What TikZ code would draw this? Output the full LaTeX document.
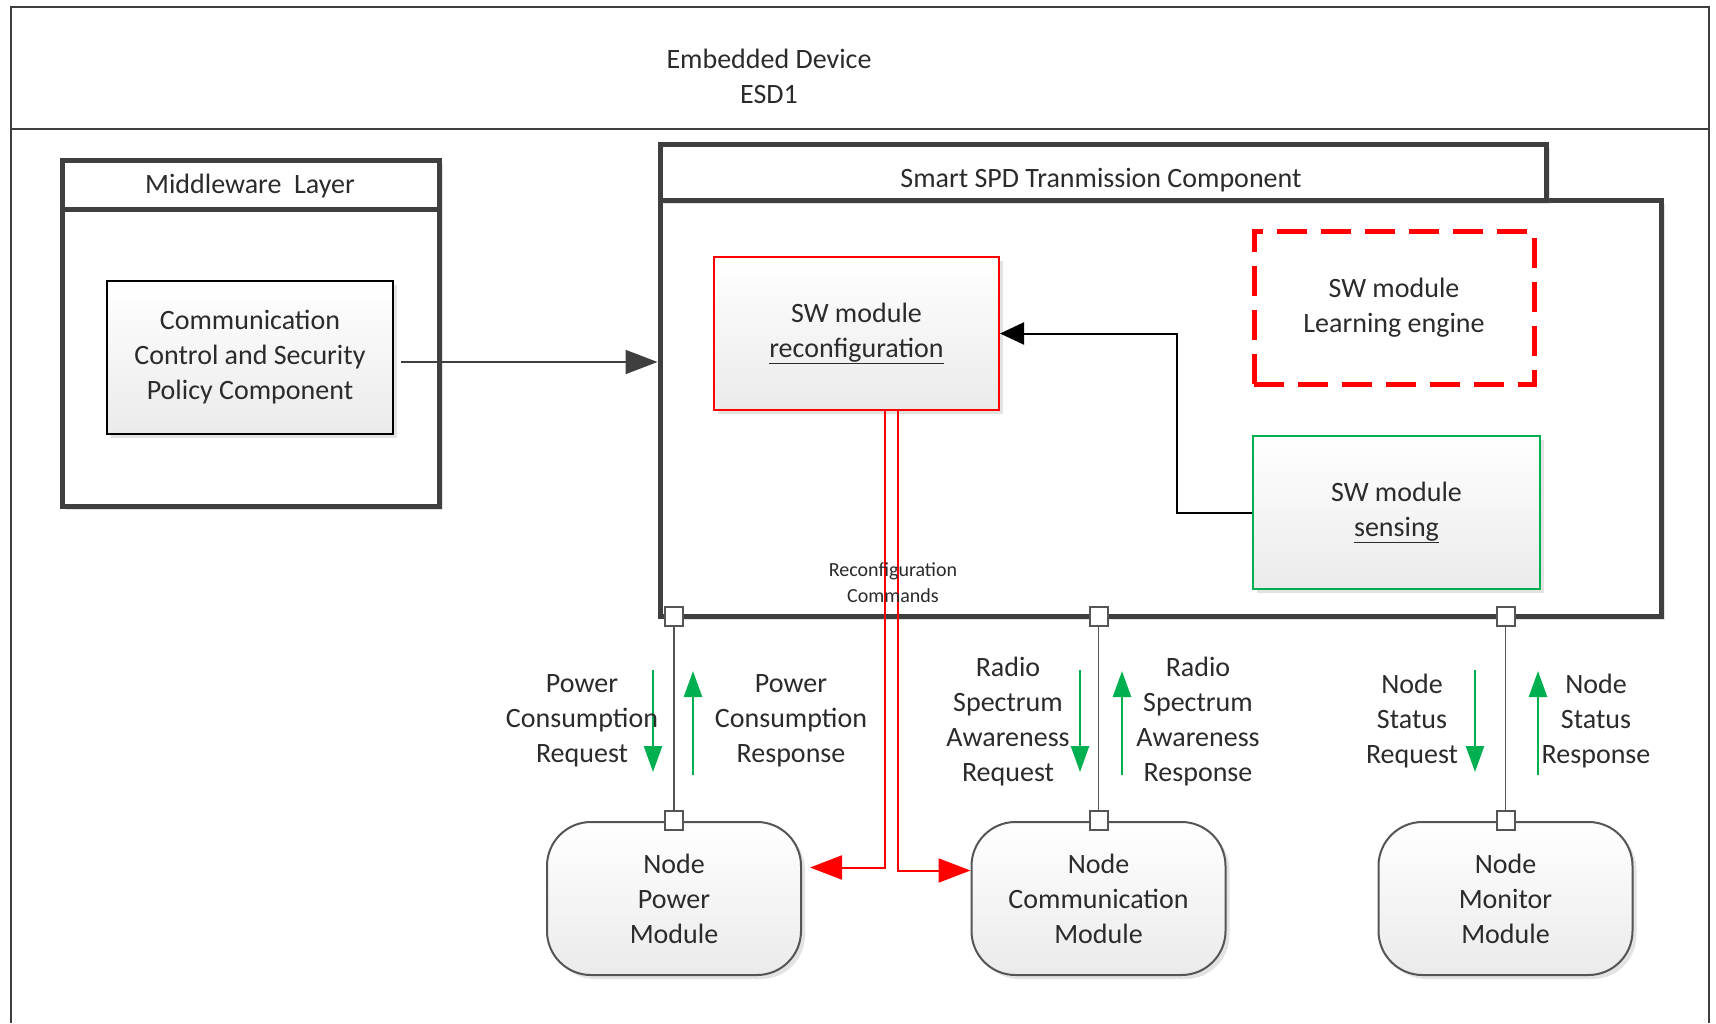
\documentclass[tikz,border=0pt]{standalone}
\usepackage{fontspec}
\setmainfont{Carlito}
\usetikzlibrary{arrows.meta,shadows,calc}

\definecolor{ink}{HTML}{2B2B2B}
\definecolor{rim}{HTML}{3F3F3F}
\definecolor{edge}{HTML}{555555}
\definecolor{okgreen}{HTML}{00B050}
\definecolor{alarm}{HTML}{FF0000}

\begin{document}
\begin{tikzpicture}[x=1pt,y=-1pt,
  txt/.style={font=\fontsize{28}{35}\selectfont, text=ink, align=center},
  smalltxt/.style={font=\fontsize{20}{26}\selectfont, text=ink, align=center},
  softshadow/.style={drop shadow={opacity=0.22, shadow xshift=4pt, shadow yshift=-4pt}},
  layerbox/.style={draw=rim, line width=5pt, fill=white, softshadow, inner sep=0pt},
  grad/.style={top color=white, bottom color=black!8},
  swbox/.style={grad, line width=2pt, minimum width=285pt, minimum height=153pt, softshadow, txt},
  module/.style={rounded corners=44pt, draw=edge, line width=2pt, grad, minimum width=254pt,
    minimum height=153pt, softshadow, txt},
  port/.style={draw=edge, line width=2pt, fill=white, minimum width=18pt, minimum height=19pt, inner sep=0pt},
  link/.style={draw=edge, line width=1.5pt},
  greenarrow/.style={draw=okgreen, line width=2.5pt, -{Triangle[length=26pt,width=18pt]}},
  redline/.style={draw=alarm, line width=2pt},
  redarrow/.style={redline, -{Triangle[length=32pt,width=24pt]}}
]
\useasboundingbox (0,0) rectangle (1716,1023);
\fill[white] (0,0) rectangle (1716,1023);

% outer device frame with its header band
\draw[rim, line width=2pt] (11,1023) -- (11,7) -- (1709,7) -- (1709,1023);
\draw[rim, line width=2pt] (11,129) -- (1709,129);
\node[txt] (device) at (769,76) {Embedded Device\\ESD1};

% middleware layer
\node[layerbox, minimum width=377pt, minimum height=346pt] (mw) at (250.5,333) {};
\draw[rim, line width=5pt] (mw.west |- 0,209) -- (mw.east |- 0,209);
\node[txt] (mwtitle) at (250,186) {Middleware\ \ Layer};
\node[grad, draw=black, line width=2.5pt, minimum width=286pt, minimum height=153pt,
      softshadow, txt] (ccsp) at (250,357.5) {Communication\\Control and Security\\Policy Component};

% smart SPD transmission component
\node[layerbox, minimum width=1001pt, minimum height=416pt] (spd) at (1160.5,408) {};
\node[layerbox, minimum width=886pt, minimum height=56pt] (spdhead) at (1103,172) {};
\node[txt] (spdtitle) at (1101,180) {Smart SPD Tranmission Component};

% software modules
\node[swbox, draw=alarm] (reconf) at (856.5,333.5) {SW module\\\underline{reconfiguration}};
\node[txt, draw=alarm, line width=5pt, dash pattern=on 30pt off 14pt, fill=white,
      minimum width=280pt, minimum height=153pt] (learn) at (1394,307.5) {SW module\\Learning engine};
\node[swbox, draw=okgreen, minimum width=287pt] (sense) at (1396.5,512.5) {SW module\\\underline{sensing}};

% node modules
\node[module] (power) at (674,898.5) {Node\\Power\\Module};
\node[module] (comm) at (1098.5,898.5) {Node\\Communication\\Module};
\node[module] (monitor) at (1505.5,898.5) {Node\\Monitor\\Module};

% ports and links between the component and the node modules
\foreach \m/\n in {power/a, comm/b, monitor/c} {
  \node[port] (top\n) at ($(\m.north |- spd.south)+(0,-2)$) {};
  \node[port] (bot\n) at ($(\m.north)+(0,-1)$) {};
  \draw[link] (top\n) -- (bot\n);
}

% control flow arrows
\coordinate (ccspout) at ($(ccsp.east)+(7,4.5)$);
\draw[draw=rim, line width=2pt, -{Triangle[length=32pt,width=24pt]}]
  (ccspout) -- (spd.west |- ccspout);
\draw[draw=black, line width=2pt, -{Triangle[length=24pt,width=22pt]}]
  (sense.west) -- ++(-75,0) |- (reconf.east);

% reconfiguration commands
\coordinate (rcl) at ($(reconf.south)+(28,0)$);
\coordinate (rcr) at ($(reconf.south)+(41,0)$);
\draw[redarrow] (rcl) |- ($(power.east)+(8,-31)$);
\draw[redarrow] (rcr) |- ($(comm.west)+(0,-28)$);
\node[smalltxt] (rclabel) at (893,583) {Reconfiguration\\Commands};

% request / response flows
\coordinate (pq1) at (653,670);  \coordinate (pq2) at (653,772);
\coordinate (pr1) at (693,775);  \coordinate (pr2) at (693,671);
\coordinate (rq1) at (1080,670); \coordinate (rq2) at (1080,772);
\coordinate (rr1) at (1122,775); \coordinate (rr2) at (1122,671);
\coordinate (nq1) at (1475,670); \coordinate (nq2) at (1475,772);
\coordinate (nr1) at (1538,775); \coordinate (nr2) at (1538,671);
\foreach \s/\e in {pq1/pq2, pr1/pr2, rq1/rq2, rr1/rr2, nq1/nq2, nr1/nr2}
  \draw[greenarrow] (\s) -- (\e);

\node[txt] (pcreq) at (582,721) {Power\\Consumption\\Request};
\node[txt] (pcresp) at (791,721) {Power\\Consumption\\Response};
\node[txt] (rsreq) at (1008,722) {Radio\\Spectrum\\Awareness\\Request};
\node[txt] (rsresp) at (1198,722) {Radio\\Spectrum\\Awareness\\Response};
\node[txt] (nsreq) at (1412,721) {Node\\Status\\Request};
\node[txt] (nsresp) at (1596,721) {Node\\Status\\Response};
\end{tikzpicture}
\end{document}
